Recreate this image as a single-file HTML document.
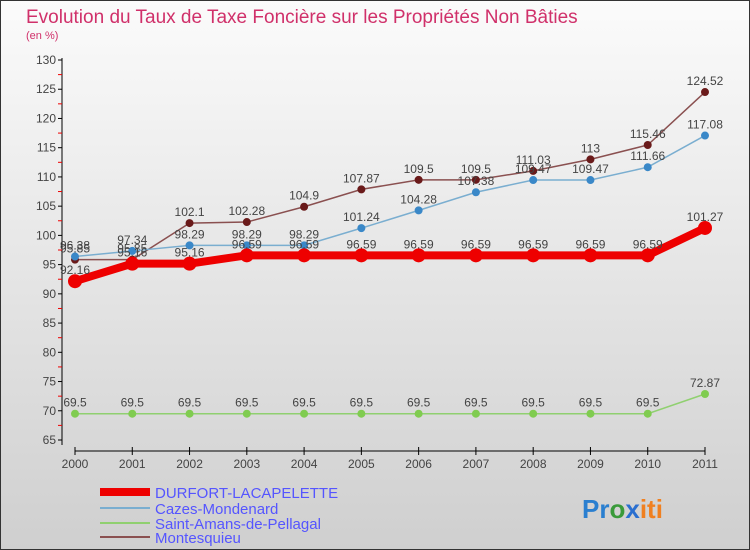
<!DOCTYPE html>
<html><head><meta charset="utf-8"><style>
body{margin:0}
svg{display:block;font-family:"Liberation Sans",sans-serif}
</style></head><body>
<svg width="750" height="550" viewBox="0 0 750 550">
<defs><linearGradient id="bg" x1="0" y1="0" x2="0" y2="1"><stop offset="0" stop-color="#fbfbfb"/><stop offset="1" stop-color="#cfcfcf"/></linearGradient></defs>
<rect x="0.5" y="0.5" width="749" height="549" fill="url(#bg)" stroke="#333"/>
<text x="26" y="23" font-size="19" fill="#d0306a">Evolution du Taux de Taxe Foncière sur les Propriétés Non Bâties</text>
<text x="26" y="39" font-size="11" fill="#d0306a">(en %)</text>
<g id="axes"></g>
<g id="series"></g>
<g>
<rect x="100" y="488" width="50" height="8" fill="#e00"/>
<text x="155" y="498" font-size="15" fill="#5555ff">DURFORT-LACAPELETTE</text>
<rect x="100" y="507" width="50" height="2" fill="#7aaed0"/>
<text x="155" y="514" font-size="15" fill="#5555ff">Cazes-Mondenard</text>
<rect x="100" y="522" width="50" height="2" fill="#90d070"/>
<text x="155" y="529" font-size="15" fill="#5555ff">Saint-Amans-de-Pellagal</text>
<rect x="100" y="536" width="50" height="2" fill="#8a5050"/>
<text x="155" y="543" font-size="15" fill="#5555ff">Montesquieu</text>
</g>
<text x="582" y="518" font-size="26" font-weight="bold"><tspan fill="#2a7fd0">Pr</tspan><tspan fill="#3a9a3a">o</tspan><tspan fill="#2a6fd0">x</tspan><tspan fill="#f08020">iti</tspan></text>
<script>
const years=[2000,2001,2002,2003,2004,2005,2006,2007,2008,2009,2010,2011];
const yTicks=[65,70,75,80,85,90,95,100,105,110,115,120,125,130];
const durfort=[92.16,95.16,95.16,96.59,96.59,96.59,96.59,96.59,96.59,96.59,96.59,101.27];
const cazes=[96.38,97.34,98.29,98.29,98.29,101.24,104.28,107.38,109.47,109.47,111.66,117.08];
const saintAmans=[69.5,69.5,69.5,69.5,69.5,69.5,69.5,69.5,69.5,69.5,69.5,72.87];
const montesquieu=[95.85,95.85,102.1,102.28,104.9,107.87,109.5,109.5,111.03,113,115.46,124.52];
const NS='http://www.w3.org/2000/svg';
const xs=i=>75+i*(630/11);
const ys=v=>60+(130-v)*(380/65);
function mk(t,a,p){const e=document.createElementNS(NS,t);for(const k in a)e.setAttribute(k,a[k]);p.appendChild(e);return e;}
const ax=document.getElementById('axes');
let l=mk('line',{x1:62,y1:58,x2:62,y2:445,stroke:'#000'},ax);


l=mk('line',{x1:75,y1:451,x2:705,y2:451,stroke:'#000'},ax);


yTicks.forEach(v=>{
 mk('line',{x1:58,y1:ys(v),x2:62,y2:ys(v),stroke:'#000'},ax);
 if(v<130) mk('line',{x1:58,y1:ys(v+2.5),x2:62,y2:ys(v+2.5),stroke:'#e00'},ax);
 const t=mk('text',{x:56,y:ys(v)+4,'font-size':12,'text-anchor':'end',fill:'#444'},ax);t.textContent=v;
 
 
});
years.forEach((y,i)=>{
 mk('line',{x1:xs(i),y1:447,x2:xs(i),y2:455,stroke:'#000'},ax);
 const t=mk('text',{x:xs(i),y:468,'font-size':12,'text-anchor':'middle',fill:'#444'},ax);t.textContent=y;
 
 
});
const sg=document.getElementById('series');
function series(d,color,w,r,name,dot,lab){
 const g=mk('g',{},sg);
 
 
 mk('polyline',{points:d.map((v,i)=>xs(i)+','+ys(v)).join(' '),fill:'none',stroke:color,'stroke-width':w},g);
 d.forEach((v,i)=>{
  const c=mk('circle',{cx:xs(i),cy:ys(v),r:r,fill:dot},g);
  
  
  const t=mk('text',{x:xs(i),y:ys(v)-7,'font-size':12,'text-anchor':'middle',fill:lab},g);t.textContent=v;
 });
}
series(saintAmans,'#90d070',1.5,4,'series-saint-amans','#80cc50','#444');
series(montesquieu,'#8a5050',1.5,4,'series-montesquieu','#6a1a1a','#444');
series(cazes,'#7aaed0',1.5,4,'series-cazes','#3a88c8','#444');
series(durfort,'#e00',8,7,'series-durfort','#e00','#444');
</script>
</svg>
</body></html>
